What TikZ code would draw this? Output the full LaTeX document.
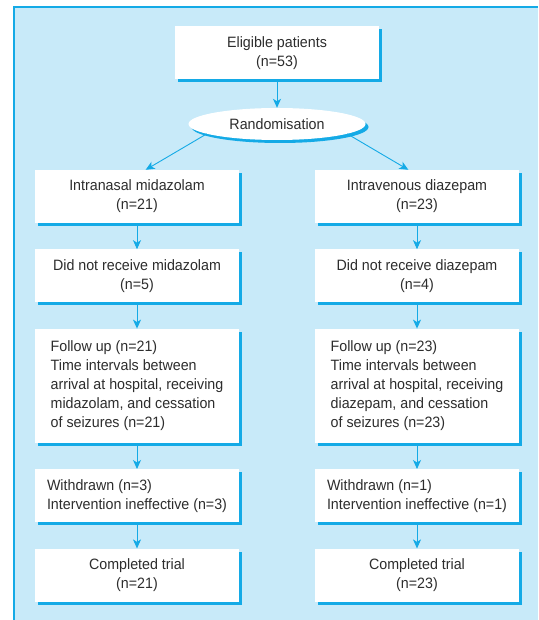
\documentclass[tikz,border=0pt]{standalone}
\usepackage{fontspec}
\setmainfont{Liberation Sans}[FakeStretch=0.95]
\usepackage{xcolor}
\usepackage{tikz}
\usetikzlibrary{arrows.meta,positioning,calc,shadows,shapes.geometric}
\definecolor{panelblue}{RGB}{200,234,249}
\definecolor{lineblue}{RGB}{20,170,230}
\definecolor{textgray}{RGB}{45,45,45}

\begin{document}
\begin{tikzpicture}[
    x=1pt, y=-1pt,
    font=\fontsize{15pt}{19pt}\selectfont,
    >={Stealth[length=9pt,width=8pt,inset=2.5pt]},
    node distance=26pt,
    box/.style={
        rectangle,
        fill=white,
        text=textgray,
        minimum width=204pt,
        minimum height=53pt,
        inner sep=4pt,
        align=center,
        drop shadow={shadow xshift=3pt, shadow yshift=-3pt, fill=lineblue, opacity=1}
    },
    listbox/.style={
        box,
        align=left
    },
    oval/.style={
        ellipse,
        fill=white,
        text=textgray,
        minimum width=177pt,
        minimum height=32pt,
        inner sep=0pt,
        drop shadow={shadow xshift=3pt, shadow yshift=-3pt, fill=lineblue, opacity=1}
    },
    arrow/.style={
        ->,
        line width=0.9pt,
        draw=lineblue
    },
    panel/.style={
        draw=lineblue,
        line width=1.5pt
    }
]

\useasboundingbox (0,0) rectangle (538,620);
\fill[panelblue] (14,7) rectangle (538,620);
\draw[panel] (14,620) -- (14,7) -- (538,7);

\node[box] (eligible) at (277,53) {Eligible patients\\(n=53)};
\node[oval] (rand) at (277,124) {Randomisation};

\node[box] (nasal) at (137,196.5) {Intranasal midazolam\\(n=21)};
\node[box, below=of nasal] (nomid) {Did not receive midazolam\\(n=5)};
\node[listbox, below=of nomid, minimum height=114pt] (followmid) {Follow up (n=21)\\Time intervals between\\arrival at hospital, receiving\\midazolam, and cessation\\of seizures (n=21)};
\node[listbox, below=of followmid] (withmid) {Withdrawn (n=3)\\Intervention ineffective (n=3)};
\node[box, below=of withmid] (donemid) {Completed trial\\(n=21)};

\node[box] (venous) at (417,196.5) {Intravenous diazepam\\(n=23)};
\node[box, below=of venous] (nodiaz) {Did not receive diazepam\\(n=4)};
\node[listbox, below=of nodiaz, minimum height=114pt] (followdiaz) {Follow up (n=23)\\Time intervals between\\arrival at hospital, receiving\\diazepam, and cessation\\of seizures (n=23)};
\node[listbox, below=of followdiaz] (withdiaz) {Withdrawn (n=1)\\Intervention ineffective (n=1)};
\node[box, below=of withdiaz] (donediaz) {Completed trial\\(n=23)};

\draw[arrow] (eligible.south) -- (rand.north);
\draw[arrow] (rand.188) -- (nasal.72);
\draw[arrow] (rand.-8) -- (venous.108);

\draw[arrow] (nasal.south) -- (nomid.north);
\draw[arrow] (nomid.south) -- (followmid.north);
\draw[arrow] (followmid.south) -- (withmid.north);
\draw[arrow] (withmid.south) -- (donemid.north);

\draw[arrow] (venous.south) -- (nodiaz.north);
\draw[arrow] (nodiaz.south) -- (followdiaz.north);
\draw[arrow] (followdiaz.south) -- (withdiaz.north);
\draw[arrow] (withdiaz.south) -- (donediaz.north);

\end{tikzpicture}
\end{document}
